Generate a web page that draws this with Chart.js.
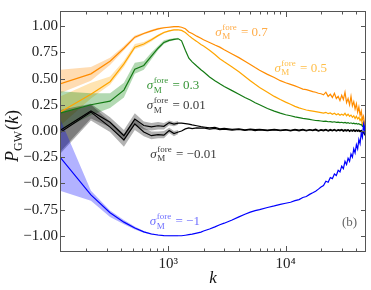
<!DOCTYPE html>
<html>
<head>
<meta charset="utf-8">
<script src="https://cdn.jsdelivr.net/npm/chart.js@4.4.1/dist/chart.umd.min.js"></script>
<style>
  html, body { margin: 0; padding: 0; background: #fff; }
  #wrap { width: 371px; height: 290px; position: relative; }
</style>
</head>
<body>
<div id="wrap"><canvas id="c"></canvas></div>
<script>
// k de los bins (bajos, medios, altos)
const kLow = [120, 220, 320, 420, 520, 620, 720, 820, 920, 1020, 1120, 1220];
const kMid = [1300, 1400, 1500, 1600, 1750, 1900, 2000, 2250, 2500, 2750, 3000, 3500, 4000, 4500, 5000, 5500, 6000, 7000, 8000, 9000];
const kHigh = [10000, 11000, 12000, 13000, 14000, 15000, 16000, 17000, 18000, 19000, 20000, 21000, 22000, 23000, 24000, 25000, 26000, 27000, 28000, 29000,
  30000, 31000, 32000, 33000, 34000, 35000, 36000, 37000, 38000, 39000, 40000, 41000, 42000, 43000, 44000, 45000, 46000, 47000, 48000];
const k = kLow.concat(kMid, kHigh);

// sigma = 0.7
const o7 = [0.45, 0.545, 0.665, 0.79, 0.895, 0.93, 0.955, 0.975, 0.985, 0.99, 0.995, 0.995,
  0.99, 0.975, 0.945, 0.93, 0.905, 0.885, 0.87, 0.845, 0.82, 0.80, 0.775, 0.735, 0.70, 0.665, 0.635, 0.605, 0.58, 0.54, 0.51, 0.48,
  0.46, 0.445, 0.43, 0.415, 0.40, 0.395, 0.385, 0.375, 0.37, 0.36, 0.355, 0.345, 0.37, 0.33, 0.35, 0.32, 0.36, 0.31, 0.33, 0.29,
  0.34, 0.30, 0.37, 0.27, 0.31, 0.25, 0.33, 0.24, 0.28, 0.21, 0.26, 0.18, 0.23, 0.15, 0.19, 0.11, 0.14, 0.06, 0.09];
const o7Lo = [0.36, 0.48, 0.63, 0.77, 0.88, 0.92, 0.945, 0.965, 0.978, 0.984, 0.99, 0.99];
const o7Hi = [0.585, 0.61, 0.70, 0.81, 0.91, 0.94, 0.965, 0.985, 0.992, 0.996, 1.0, 1.0];

// sigma = 0.5
const o5 = [0.18, 0.35, 0.47, 0.64, 0.80, 0.83, 0.87, 0.91, 0.94, 0.955, 0.965, 0.965,
  0.96, 0.94, 0.91, 0.885, 0.855, 0.825, 0.81, 0.77, 0.73, 0.69, 0.66, 0.61, 0.565, 0.52, 0.48, 0.445, 0.415, 0.37, 0.33, 0.30,
  0.275, 0.255, 0.235, 0.22, 0.21, 0.20, 0.195, 0.19, 0.185, 0.18, 0.175, 0.17, 0.178, 0.165, 0.172, 0.16, 0.17, 0.155, 0.165, 0.15,
  0.16, 0.15, 0.168, 0.145, 0.16, 0.14, 0.152, 0.13, 0.145, 0.12, 0.14, 0.115, 0.13, 0.10, 0.12, 0.06, 0.09, 0.02, 0.04];
const o5Lo = [0.05, 0.31, 0.44, 0.61, 0.78, 0.81, 0.855, 0.90, 0.93, 0.948, 0.958, 0.958];
const o5Hi = [0.33, 0.46, 0.52, 0.67, 0.83, 0.85, 0.885, 0.92, 0.95, 0.962, 0.972, 0.972];

// sigma = 0.3
const g3 = [0.17, 0.25, 0.285, 0.39, 0.59, 0.625, 0.715, 0.79, 0.845, 0.865, 0.875, 0.88,
  0.86, 0.77, 0.695, 0.66, 0.62, 0.585, 0.565, 0.515, 0.48, 0.45, 0.425, 0.385, 0.35, 0.32, 0.295, 0.27, 0.25, 0.215, 0.19, 0.17,
  0.155, 0.145, 0.135, 0.127, 0.12, 0.115, 0.11, 0.105, 0.10, 0.098, 0.095, 0.092, 0.094, 0.088, 0.09, 0.085, 0.088, 0.082, 0.085, 0.08,
  0.083, 0.078, 0.082, 0.075, 0.08, 0.072, 0.078, 0.07, 0.075, 0.068, 0.072, 0.065, 0.07, 0.06, 0.062, 0.045, 0.05, 0.02, 0.01];
const g3Lo = [0.0, 0.15, 0.22, 0.32, 0.545, 0.585, 0.685, 0.77, 0.83, 0.855, 0.867, 0.872];
const g3Hi = [0.38, 0.36, 0.36, 0.46, 0.65, 0.665, 0.75, 0.81, 0.865, 0.878, 0.885, 0.89];

// sigma = 0.01
const b1 = [0.005, 0.19, 0.083, -0.045, 0.113, 0.052, 0.04, 0.05, 0.045, 0.08, 0.065, 0.075,
  0.075, 0.07, 0.065, 0.058, 0.05, 0.042, 0.038, 0.03, 0.034, 0.02, 0.025, 0.015, 0.02, 0.01, 0.018, 0.012, 0.015, 0.008, 0.016, 0.008,
  0.014, 0.006, 0.015, 0.008, 0.016, 0.006, 0.014, 0.009, 0.017, 0.005, 0.013, 0.008, 0.016, 0.004, 0.014, 0.007, 0.015, 0.005, 0.012, 0.008,
  0.014, 0.004, 0.012, 0.006, 0.013, 0.003, 0.011, 0.005, 0.012, 0.002, 0.01, 0.004, 0.009, -0.002, 0.006, -0.01, -0.005, -0.03, -0.04];
const b1Lo = [-0.2, 0.12, 0.035, -0.1, 0.06, 0.015, 0.005, 0.015, 0.015, 0.055, 0.045, 0.06];
const b1Hi = [0.2, 0.26, 0.13, 0.01, 0.17, 0.09, 0.075, 0.085, 0.075, 0.10, 0.085, 0.095];

// sigma = -0.01
const b2 = [-0.015, 0.18, 0.037, -0.085, 0.067, -0.01, -0.045, -0.035, -0.04, 0.005, -0.025, -0.01,
  0.0, 0.02, 0.03, 0.022, 0.03, 0.028, 0.03, 0.018, 0.024, 0.012, 0.018, 0.008, 0.014, 0.006, 0.012, 0.004, 0.01, 0.003, 0.011, 0.002,
  0.009, 0.001, 0.01, 0.002, 0.011, 0.0, 0.009, 0.003, 0.01, -0.001, 0.008, 0.002, 0.01, -0.002, 0.008, 0.001, 0.009, -0.002, 0.007, 0.001,
  0.009, -0.003, 0.006, 0.0, 0.008, -0.004, 0.005, -0.002, 0.006, -0.005, 0.004, -0.004, 0.003, -0.008, 0.0, -0.018, -0.012, -0.035, -0.045];
const b2Lo = [-0.22, 0.10, -0.01, -0.15, 0.01, -0.05, -0.08, -0.07, -0.07, -0.02, -0.05, -0.03];
const b2Hi = [0.17, 0.25, 0.09, -0.03, 0.12, 0.03, -0.005, -0.005, 0.0, 0.03, 0.0, 0.01];

// sigma = -1
const bl = [-0.25, -0.61, -0.78, -0.87, -0.926, -0.963, -0.983, -0.993, -0.998, -1.0, -1.0, -1.0,
  -1.0, -0.995, -0.99, -0.985, -0.975, -0.965, -0.955, -0.935, -0.915, -0.895, -0.88, -0.85, -0.82, -0.795, -0.775, -0.76, -0.75, -0.73, -0.715, -0.70,
  -0.69, -0.68, -0.665, -0.655, -0.635, -0.625, -0.605, -0.59, -0.575, -0.555, -0.535, -0.52, -0.48, -0.49, -0.445, -0.455, -0.41, -0.425, -0.375, -0.39,
  -0.335, -0.36, -0.29, -0.32, -0.26, -0.29, -0.22, -0.25, -0.17, -0.21, -0.13, -0.17, -0.08, -0.12, -0.02, -0.06, 0.06, 0.0, 0.12];
const blLo = [-0.57, -0.665, -0.82, -0.89, -0.94, -0.972, -0.99, -0.998, -1.002, -1.004, -1.004, -1.004];
const blHi = [0.12, -0.57, -0.76, -0.85, -0.912, -0.955, -0.976, -0.988, -0.994, -0.996, -0.996, -0.996];

const xMajor = [1000, 10000];
const yTicks = [-1.0, -0.75, -0.5, -0.25, 0.0, 0.25, 0.5, 0.75, 1.0];

// etiquetas: [k, P, valor]
const labels = [
  [2520, 0.907, '0.7'],
  [8030, 0.566, '0.5'],
  [658, 0.40, '0.3'],
  [658, 0.206, '0.01'],
  [705, -0.256, '\u22120.01'],
  [698, -0.90, '\u22121'],
];
const labelColors = ['rgba(255,140,0,0.72)', 'rgba(255,165,0,0.72)', 'rgba(0,120,0,0.8)', 'rgba(0,0,0,0.8)', 'rgba(0,0,0,0.8)', 'rgba(0,0,255,0.6)'];

const SERIF = '"Liberation Serif", "DejaVu Serif", serif';
const pts = (xs, ys) => xs.map((x, i) => ({ x, y: ys[i] }));

function line(ys, color) {
  return { data: pts(k, ys), borderColor: color, borderWidth: 1.2, pointRadius: 0, fill: false, order: 0 };
}
function band(lo, hi, color) {
  return [
    { data: pts(kLow, hi), borderWidth: 0, borderColor: 'transparent', pointRadius: 0, fill: '+1', backgroundColor: color, order: 1 },
    { data: pts(kLow, lo), borderWidth: 0, borderColor: 'transparent', pointRadius: 0, fill: false, order: 1 },
  ];
}

const framePlugin = {
  id: 'frame',
  afterDraw(chart) {
    const { ctx, chartArea: a, scales: { x, y } } = chart;
    ctx.save();
    ctx.strokeStyle = '#555';
    ctx.lineWidth = 1;
    ctx.strokeRect(a.left + 0.5, a.top + 0.5, a.right - a.left - 1, a.bottom - a.top - 1);
    ctx.beginPath();
    for (const dec of [100, 1000, 10000]) {
      for (let m = 1; m <= 9; m++) {
        const v = m * dec;
        if (v < x.min || v > x.max) continue;
        const px = Math.round(x.getPixelForValue(v)) + 0.5;
        const len = m === 1 ? 6 : 3.5;
        ctx.moveTo(px, a.bottom); ctx.lineTo(px, a.bottom - len);
        ctx.moveTo(px, a.top); ctx.lineTo(px, a.top + len);
      }
    }
    for (const v of yTicks) {
      const py = Math.round(y.getPixelForValue(v)) + 0.5;
      ctx.moveTo(a.left, py); ctx.lineTo(a.left + 5, py);
      ctx.moveTo(a.right, py); ctx.lineTo(a.right - 5, py);
    }
    ctx.stroke();

    // titulos de ejes
    ctx.fillStyle = '#111';
    ctx.textBaseline = 'alphabetic';
    ctx.textAlign = 'left';
    ctx.font = 'italic 17px ' + SERIF;
    const kw = ctx.measureText('k').width;
    ctx.fillText('k', (a.left + a.right) / 2 - kw / 2, 283);

    ctx.save();
    ctx.translate(12, 136);
    ctx.rotate(-Math.PI / 2);
    const parts = [
      ['italic 18px ' + SERIF, 'P', 0],
      ['12px ' + SERIF, 'GW', 4],
      ['18px ' + SERIF, '(', 0],
      ['italic 18px ' + SERIF, 'k', 0],
      ['18px ' + SERIF, ')', 0],
    ];
    let tot = 0;
    for (const p of parts) { ctx.font = p[0]; tot += ctx.measureText(p[1]).width + (p[1] === 'GW' ? 1 : 0); }
    let cx = -tot / 2;
    for (const p of parts) {
      ctx.font = p[0];
      ctx.fillText(p[1], cx, 6 + p[2]);
      cx += ctx.measureText(p[1]).width + (p[1] === 'GW' ? 1 : 0);
    }
    ctx.restore();
    ctx.restore();
  }
};

const labelPlugin = {
  id: 'sigmaLabels',
  afterDatasetsDraw(chart) {
    const { ctx, scales: { x, y } } = chart;
    ctx.save();
    ctx.textBaseline = 'alphabetic';
    ctx.textAlign = 'left';
    labels.forEach((l, i) => {
      const px = x.getPixelForValue(l[0]);
      const py = y.getPixelForValue(l[1]);
      ctx.fillStyle = labelColors[i];
      ctx.font = 'italic 13px ' + SERIF;
      ctx.fillText('\u03c3', px, py);
      const ws = ctx.measureText('\u03c3').width + 0.5;
      ctx.font = '9px ' + SERIF;
      ctx.fillText('fore', px + ws, py - 6);
      ctx.fillText('M', px + ws, py + 3.5);
      const wsc = Math.max(ctx.measureText('fore').width, ctx.measureText('M').width);
      ctx.font = '13px ' + SERIF;
      ctx.fillText(' = ' + l[2], px + ws + wsc + 1, py);
    });
    ctx.fillStyle = '#666';
    ctx.font = '13px ' + SERIF;
    ctx.fillText('(b)', x.getPixelForValue(30170), y.getPixelForValue(-0.911));
    ctx.restore();
  }
};

new Chart(document.getElementById('c'), {
  type: 'line',
  data: {
    datasets: [
      line(bl, '#0000ff'),
      line(b2, '#000000'),
      line(b1, '#000000'),
      line(g3, '#137a13'),
      line(o5, '#ffa500'),
      line(o7, '#ff8c00'),
      ...band(blLo, blHi, 'rgba(0,0,255,0.3)'),
      ...band(b2Lo, b2Hi, 'rgba(0,0,0,0.3)'),
      ...band(b1Lo, b1Hi, 'rgba(0,0,0,0.3)'),
      ...band(g3Lo, g3Hi, 'rgba(0,128,0,0.3)'),
      ...band(o5Lo, o5Hi, 'rgba(255,165,0,0.3)'),
      ...band(o7Lo, o7Hi, 'rgba(255,140,0,0.3)'),
    ]
  },
  options: {
    responsive: true,
    maintainAspectRatio: false,
    animation: false,
    layout: { padding: { top: 3, right: 5, left: 0, bottom: 0 } },
    plugins: { legend: { display: false }, tooltip: { enabled: false } },
    scales: {
      x: {
        type: 'logarithmic',
        min: 120,
        max: 48300,
        grid: { display: false, drawTicks: false },
        border: { display: false },
        afterBuildTicks: s => { s.ticks = xMajor.map(v => ({ value: v })); },
        afterFit: s => { s.height = 38; },
        ticks: {
          autoSkip: false, maxRotation: 0, padding: 3, color: '#222',
          font: { family: SERIF, size: 15 },
          callback: v => v === 1000 ? '10\u00b3' : v === 10000 ? '10\u2074' : ''
        }
      },
      y: {
        min: -1.155,
        max: 1.145,
        grid: { display: false, drawTicks: false },
        border: { display: false },
        afterBuildTicks: s => { s.ticks = yTicks.map(v => ({ value: v })); },
        afterFit: s => { s.width = 60; },
        ticks: {
          padding: 2, color: '#222',
          font: { family: SERIF, size: 15 },
          callback: v => (v < 0 ? '\u2212' : '') + Math.abs(v).toFixed(2)
        }
      }
    }
  },
  plugins: [framePlugin, labelPlugin]
});
</script>
</body>
</html>
